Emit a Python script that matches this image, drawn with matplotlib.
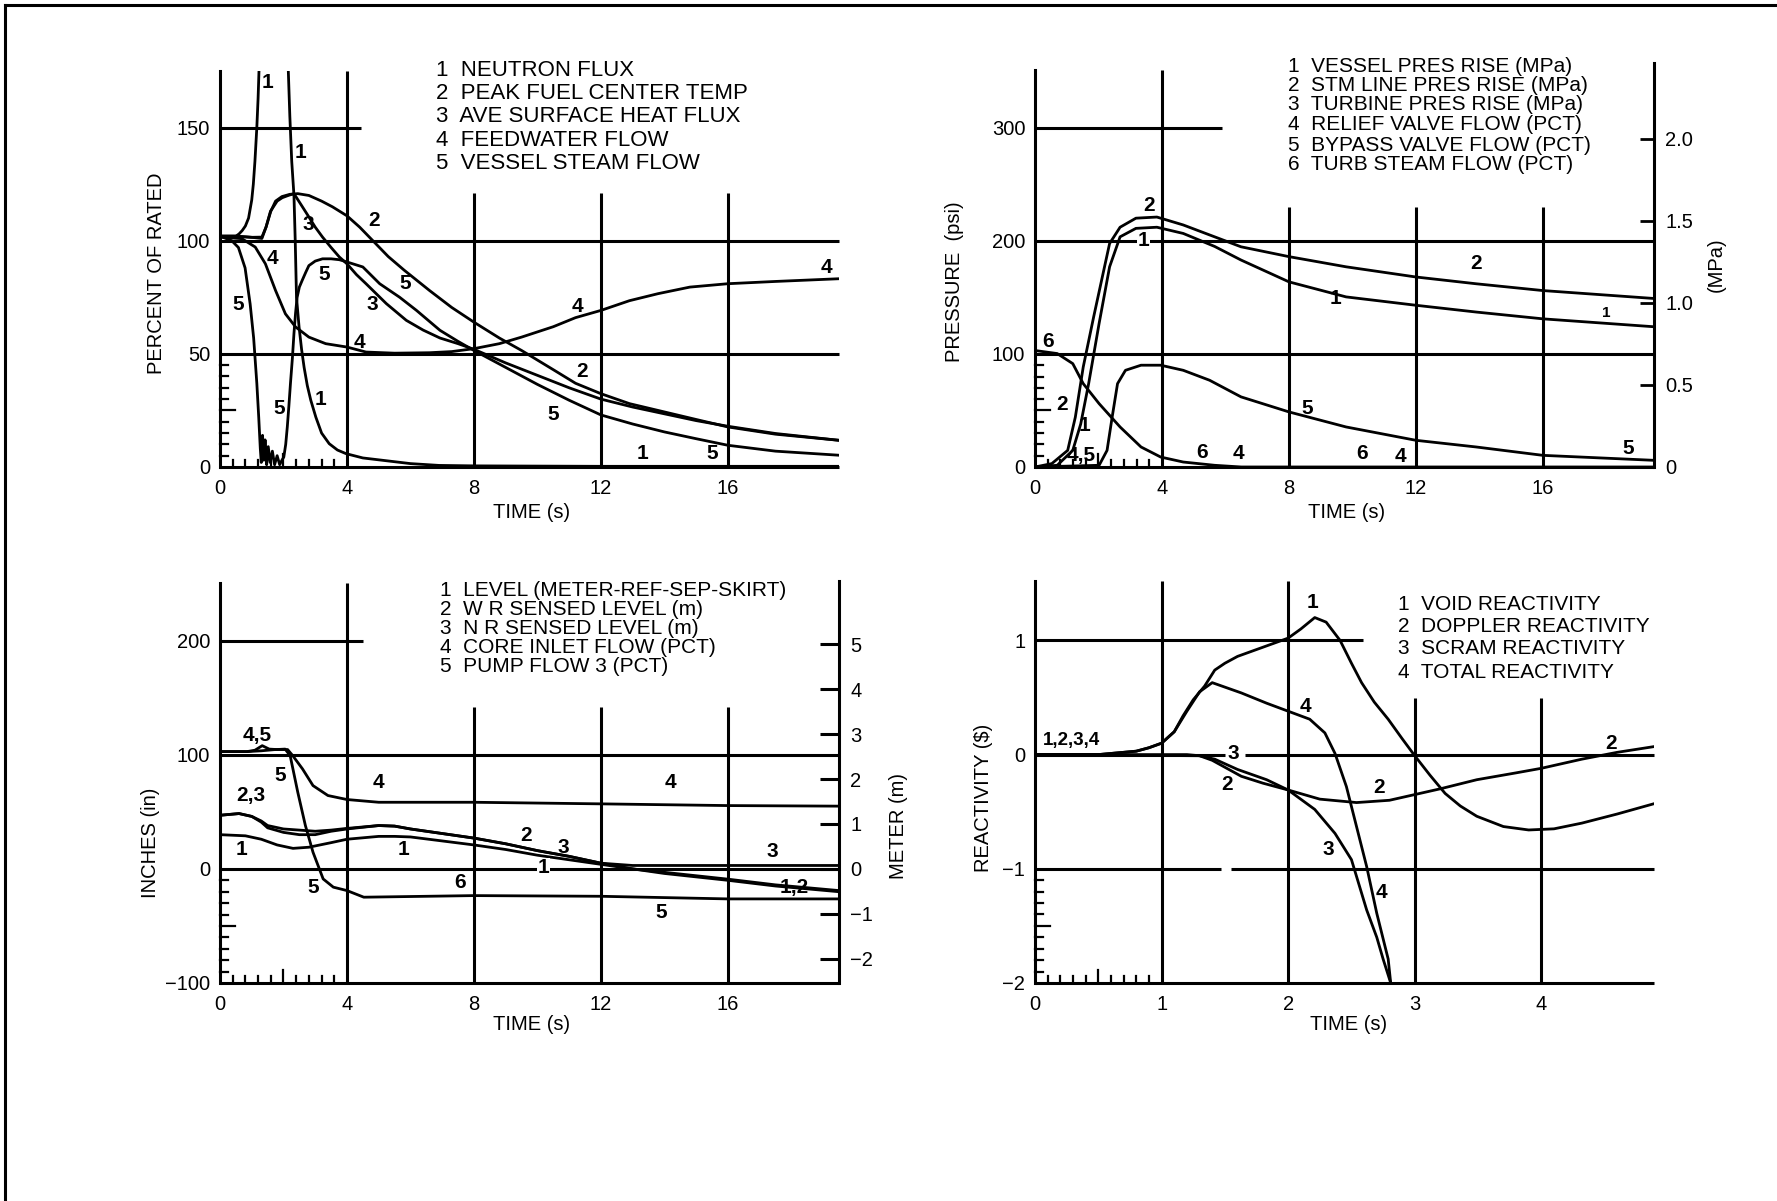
import matplotlib.pyplot as plt
from matplotlib.lines import Line2D

plt.rcParams['font.family'] = ['Liberation Sans', 'DejaVu Sans']

FIG_W, FIG_H = 1777, 1201

# ---------------- top left: percent of rated ----------------
p1_legend = ['NEUTRON FLUX', 'PEAK FUEL CENTER TEMP', 'AVE SURFACE HEAT FLUX',
             'FEEDWATER FLOW', 'VESSEL STEAM FLOW']
flux_t = [0, 0.5, 0.6, 0.7, 0.8, 0.9, 1.0, 1.05, 1.1, 1.16, 1.2, 1.24, 2.14, 2.2, 2.26, 2.33,
          2.37, 2.41, 2.49, 2.57, 2.65, 2.75, 2.86, 3.02, 3.2, 3.44, 3.7, 3.97, 4.5, 5.1, 6.0,
          6.9, 8, 12, 16, 19.5]
flux_v = [102, 102, 103, 104.5, 106.5, 110, 118, 125, 135, 150, 163, 180, 180, 155, 135, 120,
          100, 75, 62, 52, 44, 36, 29.5, 22, 15, 10.3, 7.5, 5.9, 4, 3, 1.5,
          0.7, 0.5, 0.3, 0.3, 0.3]
fuel_t = [0, 0.5, 1.0, 1.32, 1.45, 1.6, 1.75, 1.95, 2.2, 2.45, 2.8, 3.2, 3.54, 4.0, 4.4, 4.85,
          5.3, 5.8, 6.6, 7.3, 8, 8.8, 9.5, 10.5, 11.2, 12, 12.9, 13.8, 15, 16, 17.5, 19.5]
fuel_v = [102, 102, 101.5, 101, 106, 113, 117.5, 119.5, 120.5, 120.8, 120, 117.5, 115, 111, 106,
          99.5, 93, 87, 78, 70.5, 64, 57, 51.5, 43, 37, 32.4, 28, 25, 21, 17.7, 14.5, 11.8]
heat_t = [0, 0.5, 1.0, 1.32, 1.45, 1.59, 1.8, 1.96, 2.15, 2.33, 2.55, 2.8, 3.0, 3.23, 3.5, 3.76,
          4.0, 4.3, 4.6, 5.24, 5.87, 6.4, 6.93, 7.5, 8, 9, 10, 11, 12, 13, 14, 15, 16, 17.5, 19.5]
heat_v = [102, 102, 101.5, 101.6, 106, 113, 117.5, 119, 120, 120.8, 116, 110.5, 106, 101.6, 97,
          92.8, 89.8, 85, 81, 72.2, 64.8, 60.5, 57, 54.5, 52, 46, 40.5, 35, 30, 26.5, 23.5,
          20.5, 18, 14.8, 11.8]
feed_t = [0, 0.69, 1.11, 1.43, 1.75, 2.06, 2.38, 2.8, 3.33, 4.0, 4.6, 5.5, 6.6, 7.3, 8, 8.8, 9.5,
          10.5, 11.2, 12, 12.9, 13.8, 14.8, 16, 17.5, 19.5]
feed_v = [101.6, 100.9, 97.2, 89.8, 78, 67.7, 61.9, 57.4, 54.5, 53, 50.8, 50.3, 50.5, 51, 52.3,
          54.5, 57.4, 62, 66, 69.2, 73.5, 76.6, 79.5, 81, 82, 83.2]
steam_t = [0, 0.37, 0.58, 0.79, 0.95, 1.06, 1.16, 1.22, 1.27, 1.3, 1.34, 1.38, 1.42, 1.47, 1.52,
           1.58, 1.65, 1.72, 1.8, 1.88, 1.95, 2.01, 2.07, 2.12, 2.17, 2.22, 2.28, 2.33, 2.38,
           2.43, 2.5, 2.59, 2.7, 2.8, 3.0, 3.23, 3.5, 3.76, 4.0, 4.5, 5.03, 5.66, 6.19, 6.93,
           7.5, 8, 9, 10, 11, 12, 13, 14, 15, 16, 17.5, 19.5]
steam_v = [102, 100, 97, 88, 72, 57, 37, 22, 8, 2, 14, 3, 12, 1, 9,
           2, 7, 1, 5, 1, 3, 4.4, 10, 17.7, 27, 37, 48, 59, 68,
           75, 79.5, 82.5, 86, 89, 91, 92, 92, 91.6, 90.6, 88.4, 81, 75, 69.2, 60.4,
           55.5, 51.5, 44, 36.5, 29.5, 23, 19, 15.5, 12.5, 9.6, 7, 5.2]
p1_tags = [('1', 1.5, 170), ('1', 2.54, 139), ('1', 3.17, 30), ('1', 13.3, 6),
           ('2', 4.85, 109), ('2', 11.4, 42), ('3', 2.78, 107), ('3', 4.8, 72),
           ('4', 1.65, 92), ('4', 4.4, 55), ('4', 11.25, 71), ('4', 19.1, 88),
           ('5', 0.56, 72), ('5', 3.28, 85), ('5', 5.85, 81), ('5', 1.88, 26),
           ('5', 10.5, 23), ('5', 15.5, 6)]

# ---------------- top right: pressure ----------------
p2_legend = ['VESSEL PRES RISE (MPa)', 'STM LINE PRES RISE (MPa)', 'TURBINE PRES RISE (MPa)',
             'RELIEF VALVE FLOW (PCT)', 'BYPASS VALVE FLOW (PCT)', 'TURB STEAM FLOW (PCT)']
vessel_t = [0, 0.7, 1.19, 1.44, 1.69, 2.02, 2.35, 2.68, 3.18, 3.84, 4.67, 5.66, 6.49, 8.0, 9.8,
            12, 13.9, 16, 19.5]
vessel_v = [0, 1.5, 14.7, 38, 73.7, 127, 177, 203.5, 211, 212, 206.5, 195, 183, 163.7, 150.4,
            143, 137, 131, 124]
line_t = [0, 0.53, 1.03, 1.27, 1.52, 1.85, 2.19, 2.35, 2.68, 3.18, 3.84, 4.67, 5.66, 6.49, 8.0,
          9.8, 12, 13.9, 16, 19.5]
line_v = [0, 3, 14.7, 44, 88.5, 133, 177, 197.6, 212, 220, 221, 214, 203.5, 194.7, 186,
          177, 168, 162, 156, 149]
turbine_t = [0, 19.5]
turbine_v = [0, 0]
relief_t = [0, 19.5]
relief_v = [0, 0]
bypass_t = [0, 2.02, 2.27, 2.43, 2.6, 2.85, 3.34, 3.96, 4.67, 5.5, 6.49, 8.0, 9.8, 12, 13.9, 16,
            19.5]
bypass_v = [0, 1.5, 14.7, 44, 73.7, 85.5, 90, 90, 85.5, 76.7, 62, 48.7, 35.4, 23.6, 17.7, 10.3,
            5.9]
turb_t = [0, 0.7, 1.19, 1.52, 2.02, 2.68, 3.34, 3.96, 4.67, 5.66, 6.5, 19.5]
turb_v = [103, 100.3, 91.4, 73.7, 56, 35.4, 17.7, 8.8, 4.4, 1.5, 0, 0]
p2_tags = [('2', 3.6, 231), ('1', 3.43, 200), ('1', 9.47, 149), ('2', 13.9, 180),
           ('6', 0.41, 111), ('2', 0.86, 55), ('1', 1.56, 37), ('4,5', 1.44, 10),
           ('5', 8.56, 52), ('6', 5.25, 13), ('4', 6.4, 12), ('6', 10.3, 12), ('4', 11.5, 9),
           ('5', 18.7, 16)]

# ---------------- bottom left: level ----------------
p3_legend = ['LEVEL (METER-REF-SEP-SKIRT)', 'W R SENSED LEVEL (m)', 'N R SENSED LEVEL (m)',
             'CORE INLET FLOW (PCT)', 'PUMP FLOW 3 (PCT)']
level_t = [0, 0.8, 1.3, 1.8, 2.3, 2.8, 3.5, 4, 5, 5.5, 6, 7, 8, 9, 10, 11, 12, 13, 14, 16, 17.5,
           19.5]
level_v = [30, 29, 26, 21, 18, 19, 23, 26, 28.5, 28.5, 28, 24.5, 21, 17, 12, 8, 4, 0, -3, -9, -14,
           -19]
wr_t = [0, 0.6, 1.0, 1.3, 1.5, 2.0, 2.5, 3.0, 3.5, 4.0, 5.0, 5.5, 6, 7, 8, 9, 10, 11, 12, 13, 14,
        16, 17.5, 19.5]
wr_v = [47, 48.5, 46, 42, 38, 35, 34, 33, 34, 35.5, 38, 37.5, 35, 31, 27, 22, 16, 11, 5, 0, -4,
        -10, -15, -20]
nr_t = [0, 0.6, 1.0, 1.3, 1.5, 2.0, 2.5, 3.0, 3.5, 4.0, 5.0, 5.5, 6, 7, 8, 9, 10, 11, 12, 13, 16,
        19.5]
nr_v = [47, 48.5, 46, 41, 36, 32, 30, 30, 33, 35, 38, 37.5, 35, 31, 27, 22, 16, 11, 5, 3, 3, 3]
core_t = [0, 0.85, 1.1, 1.33, 1.55, 1.8, 2.13, 2.29, 2.6, 2.93, 3.4, 4.0, 5.0, 8, 12, 16, 19.5]
core_v = [102.8, 102.8, 104, 108, 105, 104.6, 104.6, 99.3, 87.6, 73, 64.3, 60.8, 58.4, 58.4, 57,
          55.5, 55]
pump_t = [0, 0.85, 1.3, 1.7, 2.05, 2.21, 2.45, 2.69, 2.93, 3.25, 3.57, 4.0, 4.53, 8, 12, 16, 19.5]
pump_v = [102.8, 102.8, 103.5, 104.5, 105, 99.3, 67.2, 38, 14.6, -8.8, -16, -19, -24.8, -23.4,
          -24, -26.3, -26.3]
meter_ticks = [-2, -1, 0, 1, 2, 3, 4, 5]
p3_tags = [('4,5', 1.17, 117), ('5', 1.9, 82), ('4', 5.0, 76), ('4', 14.2, 76), ('2,3', 0.98, 64),
           ('1', 0.69, 17), ('1', 5.78, 17), ('2', 9.65, 29), ('3', 10.8, 19), ('3', 17.4, 15),
           ('1', 10.2, 1), ('1,2', 18.1, -16), ('5', 2.93, -16), ('6', 7.57, -12),
           ('5', 13.9, -38)]

# ---------------- bottom right: reactivity ----------------
p4_legend = ['VOID REACTIVITY', 'DOPPLER REACTIVITY', 'SCRAM REACTIVITY', 'TOTAL REACTIVITY']
void_t = [0, 0.5, 0.7, 0.8, 0.9, 1.0, 1.1, 1.17, 1.25, 1.34, 1.42, 1.5, 1.6, 1.8, 2.0, 2.1, 2.21,
          2.3, 2.41, 2.5, 2.58, 2.68, 2.79, 2.9, 3.0, 3.12, 3.24, 3.36, 3.49, 3.7, 3.9, 4.1, 4.32,
          4.6, 4.89]
void_v = [0, 0, 0.02, 0.03, 0.06, 0.1, 0.2, 0.34, 0.48, 0.6, 0.74, 0.8, 0.86, 0.94, 1.02, 1.1,
          1.2, 1.16, 1.0, 0.8, 0.63, 0.46, 0.31, 0.14, -0.01, -0.18, -0.34, -0.45, -0.54, -0.63,
          -0.66, -0.65, -0.6, -0.52, -0.43]
doppler_t = [0, 1.2, 1.3, 1.4, 1.63, 1.8, 2.0, 2.25, 2.54, 2.8, 3.0, 3.2, 3.49, 3.8, 4.0, 4.32,
             4.6, 4.89]
doppler_v = [0, 0, -0.01, -0.05, -0.19, -0.25, -0.31, -0.39, -0.42, -0.4, -0.35, -0.3, -0.22,
             -0.16, -0.12, -0.04, 0.02, 0.07]
scram_t = [0, 1.3, 1.42, 1.6, 1.83, 2.0, 2.21, 2.37, 2.5, 2.62, 2.7, 2.75, 2.81]
scram_v = [0, -0.01, -0.04, -0.13, -0.22, -0.31, -0.48, -0.69, -0.92, -1.36, -1.6, -1.79, -2.0]
total_t = [0, 0.5, 0.7, 0.8, 0.9, 1.0, 1.1, 1.2, 1.3, 1.4, 1.63, 1.83, 2.0, 2.17, 2.29, 2.37, 2.46,
           2.54, 2.62, 2.7, 2.79, 2.81]
total_v = [0, 0, 0.02, 0.03, 0.06, 0.1, 0.2, 0.38, 0.55, 0.63, 0.54, 0.45, 0.38, 0.31, 0.19, 0.01,
           -0.28, -0.63, -0.98, -1.39, -1.79, -2.0]
p4_tags = [('1', 2.19, 1.33), ('4', 2.14, 0.42), ('3', 1.57, 0.01),
           ('2', 1.52, -0.26), ('2', 2.72, -0.29), ('3', 2.32, -0.83), ('4', 2.74, -1.21),
           ('2', 4.55, 0.1)]

GRID_LW = 2.2
CURVE_LW = 2.0
TAG_SIZE = 15

fig = plt.figure(figsize=(FIG_W / 100, FIG_H / 100), dpi=100)
fig.patch.set_facecolor('white')
# frame remnants of the scanned page (top and left edges only)
fig.add_artist(Line2D([5 / FIG_W, 1], [1 - 5 / FIG_H, 1 - 5 / FIG_H], color='k', lw=2.2))
fig.add_artist(Line2D([5 / FIG_W, 5 / FIG_W], [0, 1 - 5 / FIG_H], color='k', lw=2.2))


def make_axes(left, bottom, top, width=619):
    return fig.add_axes([left / FIG_W, 1 - bottom / FIG_H, width / FIG_W, (bottom - top) / FIG_H])


def style(ax, xlim, ylim, spine_top, xticks, yticks, ylabels):
    ax.set_xlim(*xlim)
    ax.set_ylim(*ylim)
    for s in ['top', 'right', 'bottom']:
        ax.spines[s].set_visible(False)
    ax.spines['left'].set_linewidth(GRID_LW)
    ax.spines['left'].set_bounds(ylim[0], spine_top)
    ax.set_xticks(xticks)
    ax.set_xticklabels([str(x) for x in xticks])
    ax.set_yticks(yticks)
    ax.set_yticklabels(ylabels)
    ax.tick_params(axis='x', length=0, labelsize=14.5, pad=9)
    ax.tick_params(axis='y', length=0, labelsize=14.5, pad=7)
    ax.set_facecolor('none')


def grid(ax, hl, vl):
    for y, x0, x1 in hl:
        ax.hlines(y, x0, x1, color='k', lw=GRID_LW, clip_on=False)
    for x, y0, y1 in vl:
        ax.vlines(x, y0, y1, color='k', lw=GRID_LW, clip_on=False)


def small_ticks(ax, xs, x_long, ys, y_long):
    tx = ax.get_xaxis_transform()
    for x in xs:
        h = 0.032 if abs(x - x_long) < 1e-9 else 0.018
        ax.plot([x, x], [0, h], transform=tx, color='k', lw=1.6, clip_on=False)
    ty = ax.get_yaxis_transform()
    for y in ys:
        w = 0.024 if abs(y - y_long) < 1e-9 else 0.013
        ax.plot([0, w], [y, y], transform=ty, color='k', lw=1.6, clip_on=False)


def curves(ax, series):
    for t, v in series:
        ax.plot(t, v, color='k', lw=CURVE_LW, solid_joinstyle='round')


def tags(ax, items, size=TAG_SIZE, white=()):
    for s, x, y in items:
        bb = dict(facecolor='white', edgecolor='none', pad=0.5) if (s, x) in white else None
        ax.text(x, y, s, ha='center', va='center', fontsize=size, fontweight='bold', bbox=bb)


def legend(ax, names, x, ys, size):
    for i, (name, y) in enumerate(zip(names, ys)):
        ax.text(x, y, f'{i + 1}  {name}', ha='left', va='center', fontsize=size)


# ---- panel 1
ax1 = make_axes(220, 467, 71)
style(ax1, (0, 19.5), (0, 175), 175, [0, 4, 8, 12, 16], [0, 50, 100, 150], ['0', '50', '100', '150'])
grid(ax1, [(0, 0, 19.5), (50, 0, 19.5), (100, 0, 19.5), (150, 0, 4.45)],
     [(4, 0, 175), (8, 0, 121), (12, 0, 121), (16, 0, 121)])
small_ticks(ax1, [0.4 * i for i in range(1, 10)], 2.0, [5 * i for i in range(1, 10)], 25)
curves(ax1, [(flux_t, flux_v), (fuel_t, fuel_v), (heat_t, heat_v), (feed_t, feed_v),
             (steam_t, steam_v)])
tags(ax1, p1_tags)
legend(ax1, p1_legend, 6.8, [175, 165, 154.7, 144.3, 134], 16)
ax1.set_xlabel('TIME (s)', fontsize=14.5)
ax1.xaxis.set_label_coords(0.503, -0.09)
ax1.set_ylabel('PERCENT OF RATED', fontsize=14.5)
ax1.yaxis.set_label_coords(-0.087, 0.49)

# ---- panel 2
ax2 = make_axes(1035, 467, 467 - 357 * 1.131)
style(ax2, (0, 19.5), (0, 357), 351, [0, 4, 8, 12, 16], [0, 100, 200, 300], ['0', '100', '200', '300'])
grid(ax2, [(0, 0, 19.5), (100, 0, 19.5), (200, 0, 19.5), (300, 0, 5.9)],
     [(4, 0, 351), (8, 0, 230), (12, 0, 230), (16, 0, 230)])
small_ticks(ax2, [0.4 * i for i in range(1, 10)], 2.0, [10 * i for i in range(1, 10)], 50)
curves(ax2, [(vessel_t, vessel_v), (line_t, line_v), (turbine_t, turbine_v),
             (relief_t, relief_v), (bypass_t, bypass_v), (turb_t, turb_v)])
tags(ax2, p2_tags, white=[('1', 3.43)])
ax2.text(18, 136, '1', ha='center', va='center', fontsize=11, fontweight='bold')
legend(ax2, p2_legend, 7.98, [354.5, 337.7, 320.9, 302.4, 284.7, 267.9], 15)
ax2.set_xlabel('TIME (s)', fontsize=14.5)
ax2.xaxis.set_label_coords(0.503, -0.09)
ax2.set_ylabel('PRESSURE  (psi)', fontsize=14.5)
ax2.yaxis.set_label_coords(-0.115, 0.46)
ax2r = ax2.twinx()
ax2r.set_ylim(0, 357 / 145.04)
for s in ['top', 'left', 'bottom']:
    ax2r.spines[s].set_visible(False)
ax2r.spines['right'].set_linewidth(GRID_LW)
ax2r.set_yticks([0, 0.5, 1.0, 1.5, 2.0])
ax2r.set_yticklabels(['0', '0.5', '1.0', '1.5', '2.0'])
ax2r.tick_params(axis='y', direction='in', length=10, width=2, labelsize=14.5, pad=8)
ax2r.set_ylabel('(MPa)', fontsize=14.5)
ax2r.yaxis.set_label_coords(1.086, 0.5)

# ---- panel 3
ax3 = make_axes(220, 983, 983 - 352 * 1.141)
style(ax3, (0, 19.5), (-100, 252), 251, [0, 4, 8, 12, 16], [-100, 0, 100, 200],
      ['\u2212100', '0', '100', '200'])
grid(ax3, [(-100, 0, 19.5), (0, 0, 19.5), (100, 0, 19.5), (200, 0, 4.5)],
     [(4, -100, 251), (8, -100, 142), (12, -100, 142), (16, -100, 142)])
small_ticks(ax3, [0.4 * i for i in range(1, 10)], 2.0, [-100 + 10 * i for i in range(1, 10)], -50)
curves(ax3, [(level_t, level_v), (wr_t, wr_v), (nr_t, nr_v), (core_t, core_v), (pump_t, pump_v)])
tags(ax3, p3_tags, white=[('1', 10.2)])
legend(ax3, p3_legend, 6.93, [244, 227.5, 211, 194, 177], 15)
ax3.set_xlabel('TIME (s)', fontsize=14.5)
ax3.xaxis.set_label_coords(0.503, -0.08)
ax3.set_ylabel('INCHES (in)', fontsize=14.5)
ax3.yaxis.set_label_coords(-0.097, 0.35)
ax3r = ax3.twinx()
ax3r.set_ylim(-100 / 39.37, 252 / 39.37)
for s in ['top', 'left', 'bottom']:
    ax3r.spines[s].set_visible(False)
ax3r.spines['right'].set_linewidth(GRID_LW)
ax3r.set_yticks(meter_ticks)
ax3r.set_yticklabels([str(m).replace('-', '\u2212') for m in meter_ticks])
ax3r.tick_params(axis='y', direction='in', length=14, width=2.2, labelsize=14.5, pad=8)
ax3r.set_ylabel('METER (m)', fontsize=14.5)
ax3r.yaxis.set_label_coords(1.08, 0.39)

# ---- panel 4
ax4 = make_axes(1035, 983, 983 - 3.52 * 114.2)
style(ax4, (0, 4.89), (-2, 1.52), 1.52, [0, 1, 2, 3, 4], [-2, -1, 0, 1],
      ['\u22122', '\u22121', '0', '1'])
grid(ax4, [(-2, 0, 4.89), (-1, 0, 1.47), (-1, 1.55, 4.89), (0, 0, 1.5), (0, 1.66, 4.89),
           (1, 0, 2.59)],
     [(1, -2, 1.52), (2, -2, 1.52), (3, -2, 0.5), (4, -2, 0.5)])
small_ticks(ax4, [0.1 * i for i in range(1, 10)], 0.5, [-2 + 0.1 * i for i in range(1, 10)], -1.5)
curves(ax4, [(void_t, void_v), (doppler_t, doppler_v), (scram_t, scram_v), (total_t, total_v)])
tags(ax4, p4_tags)
ax4.text(0.29, 0.12, '1,2,3,4', ha='center', va='center', fontsize=13.5, fontweight='bold')
legend(ax4, p4_legend, 2.87, [1.313, 1.123, 0.925, 0.715], 15)
ax4.set_xlabel('TIME (s)', fontsize=14.5)
ax4.xaxis.set_label_coords(0.506, -0.08)
ax4.set_ylabel('REACTIVITY ($)', fontsize=14.5)
ax4.yaxis.set_label_coords(-0.068, 0.46)

fig.savefig('out.png', dpi=100, facecolor='white')
